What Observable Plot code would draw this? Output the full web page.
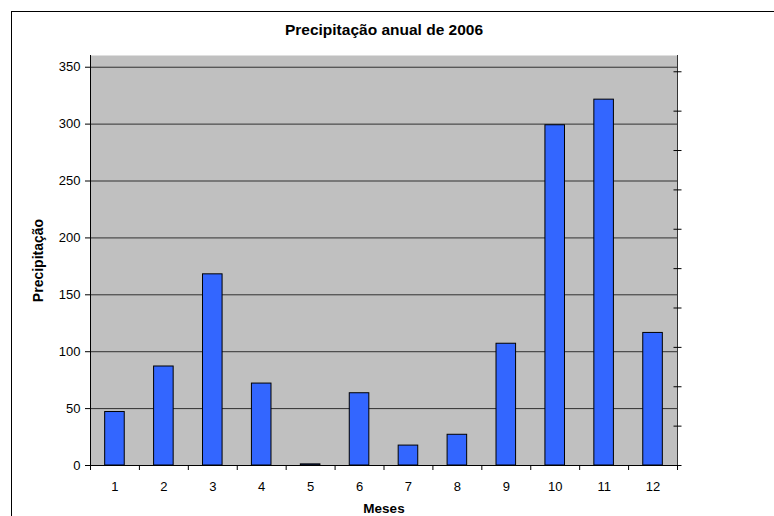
<!DOCTYPE html>
<html>
<head>
<meta charset="utf-8">
<script src="https://cdn.jsdelivr.net/npm/d3@7"></script>
<script src="https://cdn.jsdelivr.net/npm/@observablehq/plot@0.6"></script>
<style>
  html, body { margin: 0; padding: 0; background: #fff; }
  #wrap { position: relative; width: 774px; height: 516px; overflow: hidden; }
  #border { position: absolute; left: 11px; top: 11px; width: 900px; height: 700px;
            border-left: 1px solid #000; border-top: 1px solid #000; pointer-events: none; }
  svg { display: block; }
</style>
</head>
<body>
<div id="wrap"><div id="border"></div></div>
<script>
const title = "Precipitação anual de 2006";
const xLabel = "Meses";
const yLabel = "Precipitação";
const months = [1, 2, 3, 4, 5, 6, 7, 8, 9, 10, 11, 12];
const precip = [47, 87, 168, 72, 1, 63.5, 17.5, 27, 107, 299, 321.5, 116.5];
const yTicks = [0, 50, 100, 150, 200, 250, 300, 350];
const xBoundaryTicks = [0.5, 1.5, 2.5, 3.5, 4.5, 5.5, 6.5, 7.5, 8.5, 9.5, 10.5, 11.5, 12.5];
const rightTicks = [0, 34.6, 69.2, 103.8, 138.4, 173, 207.6, 242.2, 276.8, 311.4, 346];

const data = months.map((m, i) => ({m, v: precip[i]}));
const font = "'Liberation Sans', Arial, sans-serif";

// horizontal dash symbol for the crossing ticks of the secondary axis
const dash = {
  draw(context, size) {
    const r = Math.sqrt(size / Math.PI);
    context.moveTo(-r, 0);
    context.lineTo(r, 0);
  }
};

const chart = Plot.plot({
  width: 774,
  height: 516,
  marginLeft: 90,
  marginRight: 97,
  marginTop: 55,
  marginBottom: 51,
  style: {fontFamily: font, fontSize: "13px", color: "#000", background: "transparent"},
  x: {type: "linear", domain: [0.5, 12.5]},
  y: {domain: [0, 360.3]},
  marks: [
    Plot.frame({fill: "#c0c0c0", stroke: null}),
    Plot.gridY(yTicks, {stroke: "#000", strokeOpacity: 0.75, strokeWidth: 1}),
    Plot.rectY(data, {x1: d => d.m - 0.2, x2: d => d.m + 0.2, y: "v", fill: "#3366ff", stroke: "#000", strokeWidth: 1}),
    Plot.frame({anchor: "left", stroke: "#000"}),
    Plot.frame({anchor: "right", stroke: "#333"}),
    Plot.ruleY([0], {stroke: "#000"}),
    Plot.axisY({ticks: yTicks, tickSize: 5, tickPadding: 5, label: null, fontSize: 13}),
    Plot.dot(rightTicks, {x: () => 12.5, y: d => d, r: 4, symbol: dash, stroke: "#000", strokeWidth: 1, fill: "none"}),
    Plot.axisX({ticks: xBoundaryTicks, tickSize: 5, tickFormat: () => "", label: null}),
    Plot.axisX({ticks: months, tickSize: 0, tickPadding: 16, label: null, fontSize: 13}),
    Plot.text([title], {frameAnchor: "top", dy: -25, text: d => d, fontSize: 15.5, fontWeight: "bold", lineAnchor: "middle"}),
    Plot.text([xLabel], {frameAnchor: "bottom", dy: 43, text: d => d, fontSize: 13.5, fontWeight: "bold", lineAnchor: "middle", textAnchor: "middle"}),
    Plot.text([yLabel], {frameAnchor: "left", dx: -52, rotate: -90, text: d => d, fontSize: 14, fontWeight: "bold", lineAnchor: "middle", textAnchor: "middle"})
  ]
});
document.getElementById("wrap").prepend(chart);
</script>
</body>
</html>
